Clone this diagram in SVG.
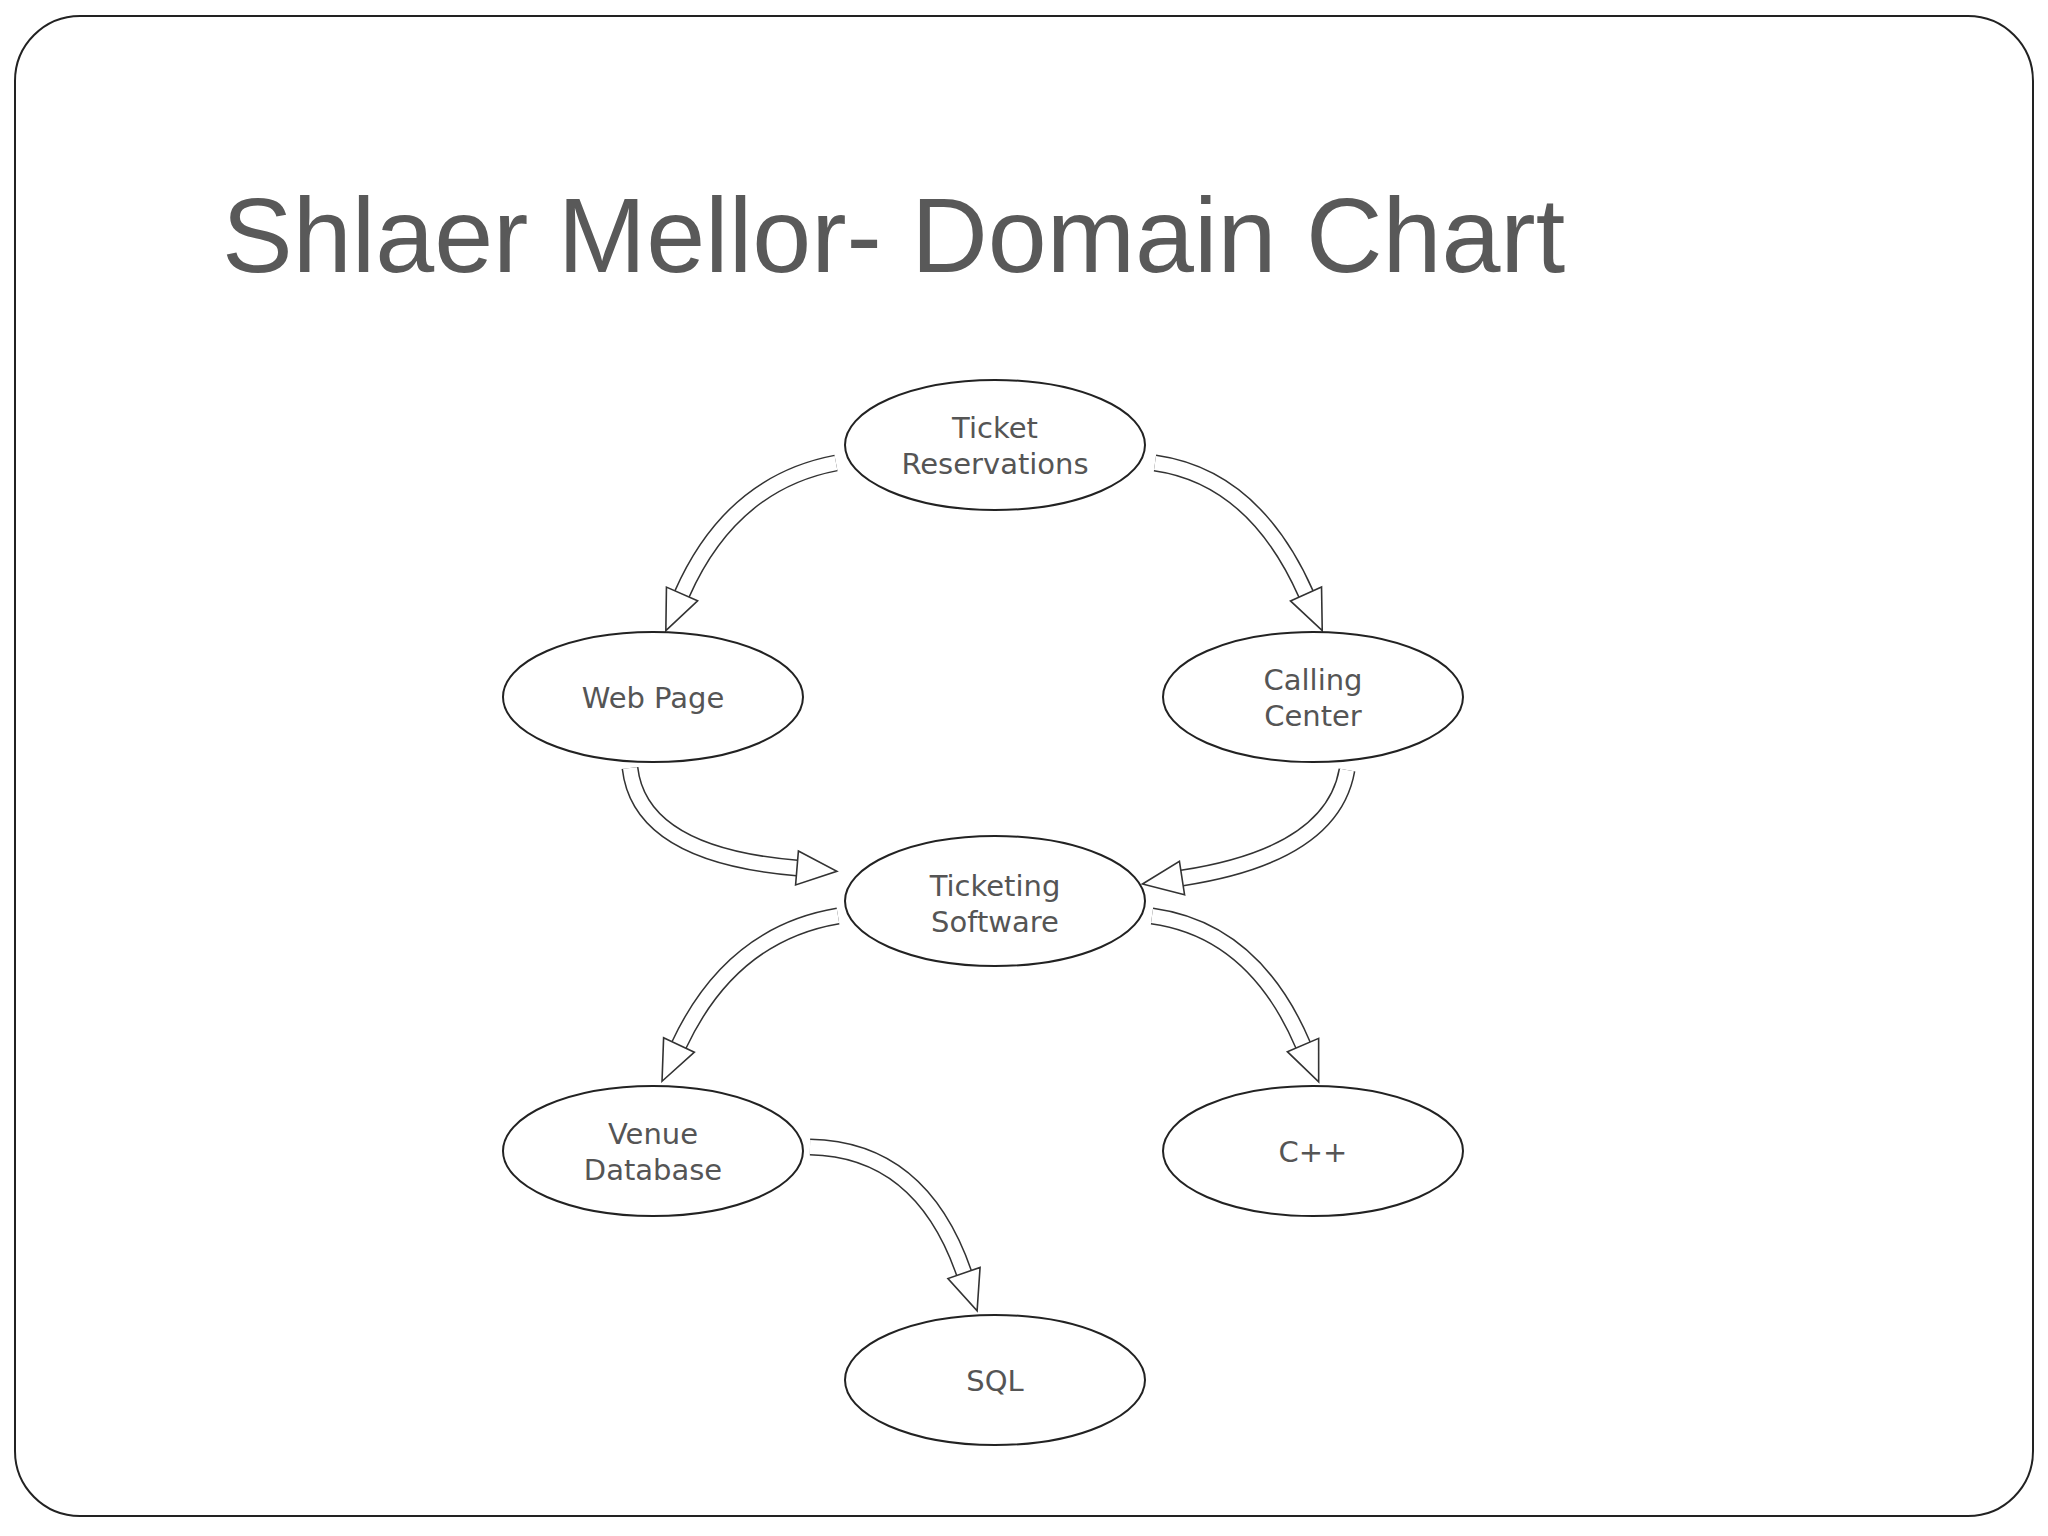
<svg xmlns="http://www.w3.org/2000/svg" width="2048" height="1536" viewBox="0 0 2048 1536">
<style>
.n ellipse{fill:#fff;stroke:#222;stroke-width:2}
.n text{font-family:"DejaVu Sans",sans-serif;font-size:29px;fill:#555;text-anchor:middle}
.o{fill:none;stroke:#333;stroke-width:17}
.i{fill:none;stroke:#fff;stroke-width:14;marker-end:url(#h)}
</style>
<defs>
<marker id="h" markerUnits="userSpaceOnUse" viewBox="-2 -2 44 38" refX="0" refY="17" markerWidth="44" markerHeight="38" orient="auto">
<path d="M0,0 L40,17 L0,34 z" fill="#fff" stroke="#333" stroke-width="1.6"/>
</marker>
</defs>
<rect x="0" y="0" width="2048" height="1536" fill="#fff"/>
<rect x="15" y="16" width="2018" height="1500" rx="65" fill="#fff" stroke="#222" stroke-width="2"/>
<text x="222" y="272" font-family="Liberation Sans, Arial, sans-serif" font-size="106" fill="#595959">Shlaer Mellor- Domain Chart</text>
<g id="connectors">
<path class="o" d="M836,463 Q731,483 682,594"/><path class="i" d="M836,463 Q731,483 682,594"/>
<path class="o" d="M1155,463 Q1254,477 1306,594"/><path class="i" d="M1155,463 Q1254,477 1306,594"/>
<path class="o" d="M630,768 Q640,855 797,868"/><path class="i" d="M630,768 Q640,855 797,868"/>
<path class="o" d="M1347,770 Q1332,855 1182,878"/><path class="i" d="M1347,770 Q1332,855 1182,878"/>
<path class="o" d="M838,916 Q731,934 679,1045"/><path class="i" d="M838,916 Q731,934 679,1045"/>
<path class="o" d="M1152,916 Q1254,930 1303,1045"/><path class="i" d="M1152,916 Q1254,930 1303,1045"/>
<path class="o" d="M810,1147 Q921,1149 964,1273"/><path class="i" d="M810,1147 Q921,1149 964,1273"/>
</g>
<g id="ticket" class="n"><ellipse cx="995" cy="445" rx="150" ry="65"/><text x="995" y="438">Ticket</text><text x="995" y="474">Reservations</text></g>
<g id="web" class="n"><ellipse cx="653" cy="697" rx="150" ry="65"/><text x="653" y="708">Web Page</text></g>
<g id="calling" class="n"><ellipse cx="1313" cy="697" rx="150" ry="65"/><text x="1313" y="690">Calling</text><text x="1313" y="726">Center</text></g>
<g id="ticketing" class="n"><ellipse cx="995" cy="901" rx="150" ry="65"/><text x="995" y="896">Ticketing</text><text x="995" y="932">Software</text></g>
<g id="venue" class="n"><ellipse cx="653" cy="1151" rx="150" ry="65"/><text x="653" y="1144">Venue</text><text x="653" y="1180">Database</text></g>
<g id="cpp" class="n"><ellipse cx="1313" cy="1151" rx="150" ry="65"/><text x="1313" y="1162">C++</text></g>
<g id="sql" class="n"><ellipse cx="995" cy="1380" rx="150" ry="65"/><text x="995" y="1391">SQL</text></g>
</svg>
